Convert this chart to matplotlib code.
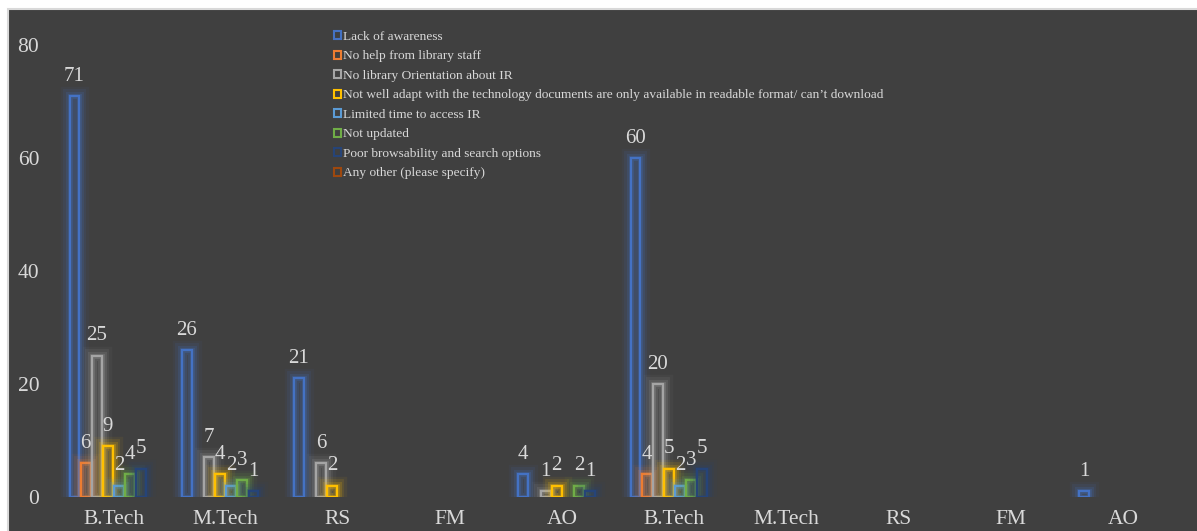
import numpy as np
import matplotlib
matplotlib.use("Agg")
import matplotlib.pyplot as plt
from matplotlib import patheffects as pe
from matplotlib.patches import Rectangle

plt.rcParams["font.family"] = ["Liberation Serif", "DejaVu Serif"]

nan = np.nan

categories = ["B.Tech", "M.Tech", "RS", "FM", "AO",
              "B.Tech", "M.Tech", "RS", "FM", "AO"]

series_names = [
    "Lack of awareness",
    "No help from library staff",
    "No library Orientation about IR",
    "Not well adapt with the technology documents are only available in readable format/ can\u2019t download",
    "Limited time to access IR",
    "Not updated",
    "Poor browsability and search options",
    "Any other (please specify)",
]

lack_of_awareness = [71, 26, 21, nan, 4, 60, nan, nan, nan, 1]
no_help_staff = [6, nan, nan, nan, nan, 4, nan, nan, nan, nan]
no_orientation = [25, 7, 6, nan, 1, 20, nan, nan, nan, nan]
not_well_adapt = [9, 4, 2, nan, 2, 5, nan, nan, nan, nan]
limited_time = [2, 2, nan, nan, nan, 2, nan, nan, nan, nan]
not_updated = [4, 3, nan, nan, 2, 3, nan, nan, nan, nan]
poor_browsability = [5, 1, nan, nan, 1, 5, nan, nan, nan, nan]
any_other = [nan] * 10

values = [lack_of_awareness, no_help_staff, no_orientation, not_well_adapt,
          limited_time, not_updated, poor_browsability, any_other]

colors = ["#4472C4", "#ED7D31", "#A5A5A5", "#FFC000",
          "#5B9BD5", "#70AD47", "#264478", "#9E480E"]

BG = "#404040"
TXT = "#D9D9D9"

W, H = 1197, 531
fig = plt.figure(figsize=(W / 100, H / 100), dpi=100, facecolor="white")

# dark chart area with a thin light border
fig.patches.append(Rectangle((7.5 / W, -0.05), 1.1, (H - 8.5) / H + 0.05,
                             transform=fig.transFigure, facecolor=BG,
                             edgecolor="#D9D9D9", linewidth=1.5, zorder=-5))

left, right = 57.4 / W, 1179.4 / W
bottom, top = (H - 497) / H, (H - 45) / H
ax = fig.add_axes([left, bottom, right - left, top - bottom])
ax.set_facecolor("none")
ax.set_zorder(2)

n_series = len(values)
x = np.arange(len(categories))
slot = 0.0992
bar_w = 0.088

for j, (vals, col) in enumerate(zip(values, colors)):
    offs = (j - (n_series - 1) / 2) * slot
    for i, v in enumerate(vals):
        if np.isnan(v):
            continue
        b = ax.bar(x[i] + offs, v, width=bar_w, facecolor="none",
                   edgecolor=col, linewidth=1.6, zorder=3)[0]
        b.set_path_effects([
            pe.Stroke(linewidth=14, foreground=col, alpha=0.06),
            pe.Stroke(linewidth=10, foreground=col, alpha=0.10),
            pe.Stroke(linewidth=6.5, foreground=col, alpha=0.16),
            pe.Stroke(linewidth=3.5, foreground=col, alpha=0.25),
            pe.Normal(),
        ])
        ax.annotate(f"{v:g}", (x[i] + offs, v), xytext=(0, 11),
                    textcoords="offset points", ha="center", va="baseline",
                    fontsize=15, color=TXT, zorder=5)

ax.set_xlim(-0.5, len(categories) - 0.5)
ax.set_ylim(0, 80)
ax.set_yticks([0, 20, 40, 60, 80])
ax.set_xticks(x)
ax.set_xticklabels(categories)
ax.tick_params(axis="both", length=0, labelsize=15.5, colors=TXT)
ax.tick_params(axis="y", pad=13)
ax.tick_params(axis="x", pad=9)
for s in ax.spines.values():
    s.set_visible(False)

handles = [Rectangle((0, 0), 1, 1, facecolor="none", edgecolor=c, linewidth=1.5)
           for c in colors]
leg = fig.legend(handles, series_names, loc="upper left",
                 bbox_to_anchor=(334 / W, (H - 31) / H),
                 frameon=False, fontsize=9.6, labelcolor=TXT,
                 handlelength=0.55, handleheight=0.55, handletextpad=0.15,
                 labelspacing=0.56, borderaxespad=0, borderpad=0)
leg.set_zorder(6)

fig.savefig("out.png", dpi=100, facecolor="white")
